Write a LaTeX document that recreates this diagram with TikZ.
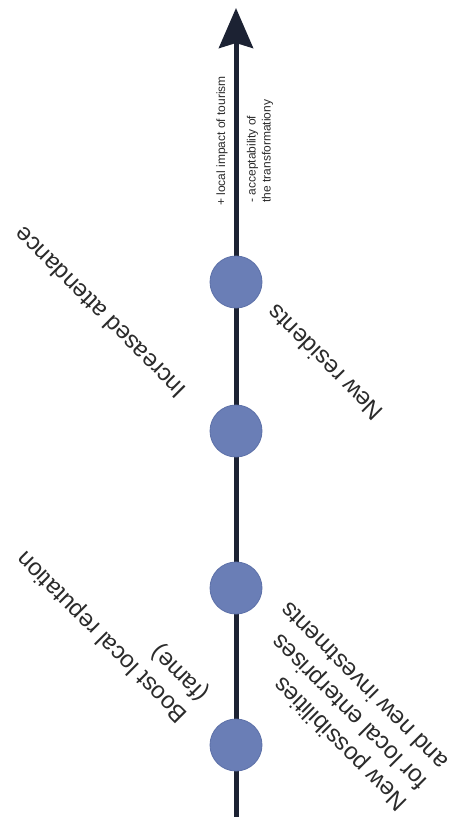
\documentclass[tikz,border=0pt]{standalone}
\usepackage{fontspec}
\setmainfont{Liberation Sans}
\usetikzlibrary{arrows.meta}
\definecolor{axisnavy}{HTML}{1C2233}
\definecolor{dotblue}{HTML}{6A7EB6}
\definecolor{dotedge}{HTML}{5C70A8}
\definecolor{labelgray}{HTML}{2B2B2B}
\begin{document}
\begin{tikzpicture}[x=1pt,y=-1pt,
  stage/.style={circle,fill=dotblue,draw=dotedge,line width=0.8pt,minimum size=52pt,inner sep=0pt},
  axisline/.style={draw=axisnavy,line width=5pt,-{Stealth[length=40pt,width=34pt,inset=5pt]}},
  lbl/.style={font=\fontsize{24}{29}\selectfont,text=labelgray,rotate=135,align=left,inner sep=0pt},
  axislbl/.style={font=\fontsize{12}{15}\selectfont,text=labelgray,rotate=90,align=left,inner sep=0pt}]
\useasboundingbox (0,0) rectangle (451,817);
\fill[white] (0,0) rectangle (451,817);
% time axis
\coordinate (bottom) at (236,817);
\coordinate (top) at (236,8);
\draw[axisline] (bottom) -- (top);
% stages along the axis
\node[stage] (s1) at (236,282) {};
\node[stage] (s2) at (236,431) {};
\node[stage] (s3) at (236,588) {};
\node[stage] (s4) at (236,745) {};
% axis captions
\node[axislbl] (plus) at (222,141) {+ local impact of tourism};
\node[axislbl] (minus) at (260,151) {- acceptability of\\the transformationy};
% stage labels
\node[lbl] (attend) at (100,313) {Increased attendance};
\node[lbl] (resid) at (325,363) {New residents};
\node[lbl] (fame) at (113,626) {Boost local reputation\\(fame)};
\node[lbl] (invest) at (343,707) {New possibilities\\for local enterprises\\and new investments};
\end{tikzpicture}
\end{document}
